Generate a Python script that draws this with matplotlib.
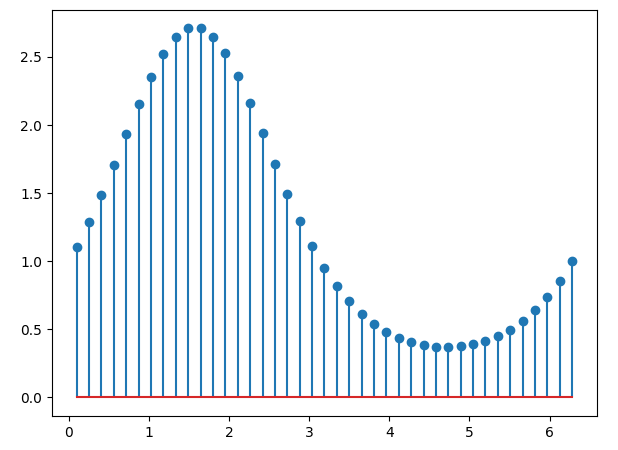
import matplotlib
matplotlib.use("Agg")
import matplotlib.pyplot as plt

x = [0.100, 0.255, 0.409, 0.564, 0.718, 0.873, 1.027, 1.182, 1.337, 1.491,
     1.646, 1.800, 1.955, 2.110, 2.264, 2.419, 2.573, 2.728, 2.882, 3.037,
     3.192, 3.346, 3.501, 3.655, 3.810, 3.965, 4.119, 4.274, 4.428, 4.583,
     4.737, 4.892, 5.047, 5.201, 5.356, 5.510, 5.665, 5.819, 5.974, 6.129,
     6.283]
y = [1.105, 1.286, 1.489, 1.706, 1.931, 2.152, 2.353, 2.523, 2.645, 2.710,
     2.710, 2.647, 2.528, 2.360, 2.159, 1.939, 1.714, 1.497, 1.294, 1.110,
     0.951, 0.816, 0.705, 0.614, 0.538, 0.480, 0.436, 0.404, 0.383, 0.371,
     0.368, 0.374, 0.389, 0.414, 0.449, 0.498, 0.560, 0.639, 0.738, 0.857,
     1.000]

fig, ax = plt.subplots(figsize=(6.18, 4.5), dpi=100)
fig.subplots_adjust(left=0.084, right=0.966, top=0.978, bottom=0.076)
ax.stem(x, y)
fig.savefig("out.png")
